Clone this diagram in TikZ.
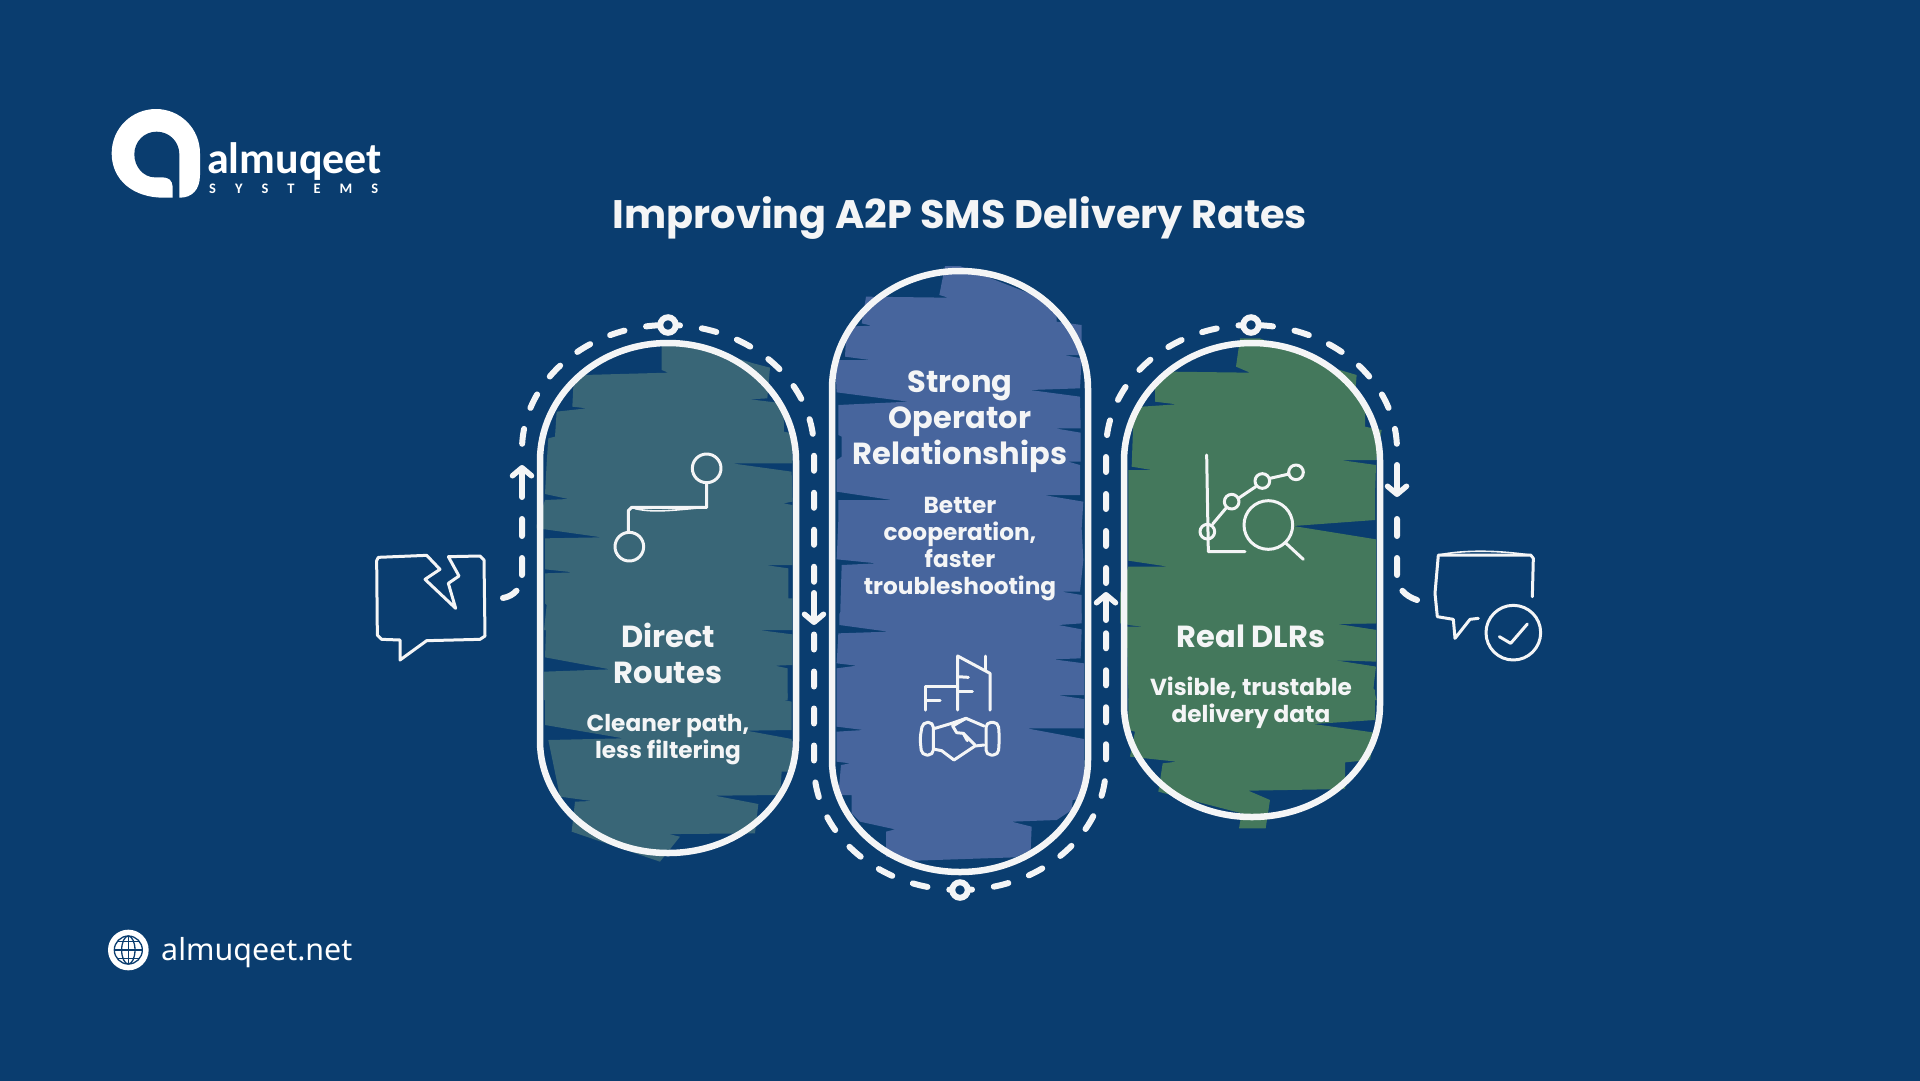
\documentclass[tikz,border=0pt]{standalone}
\usepackage{fontspec}
\usetikzlibrary{arrows.meta}
\setmainfont{Poppins}
\newfontfamily\logofont{Carlito}
\newfontfamily\webfont{Noto Sans}
\definecolor{bgc}{HTML}{0A3D6F}
\definecolor{tealc}{HTML}{396677}
\definecolor{bluec}{HTML}{47659D}
\definecolor{greenc}{HTML}{44785C}
\definecolor{inkc}{HTML}{F4F5F6}
\tikzset{
  pill/.style={draw=inkc,line width=6.5pt,line join=round},
  dashp/.style={draw=inkc,line width=6pt,line cap=round,dash pattern=on 15pt off 22pt},
  tailp/.style={draw=inkc,line width=6pt,line cap=round,dash pattern=on 17pt off 22pt on 17pt off 22pt on 17pt off 17pt on 22pt off 100pt,dash phase=17pt},
  flowarrow/.style={draw=inkc,line width=6pt,line cap=round,-{Straight Barb[length=8pt,width=19pt,round,line width=5.5pt]}},
  ringn/.style={circle,draw=inkc,fill=bgc,line width=6pt,minimum size=15.5pt,inner sep=0pt,outer sep=0pt},
  icon/.style={draw=inkc,line width=3pt,line cap=round,line join=round},
  thin icon/.style={draw=inkc,line width=1.6pt,line cap=round,line join=round},
  head/.style={text=inkc,align=center,inner sep=0pt,anchor=base,font=\fontsize{30.5}{36}\selectfont\bfseries},
  sub/.style={text=inkc,align=center,inner sep=0pt,anchor=base,font=\fontsize{23.2}{27}\selectfont\bfseries},
  zA/.style={shift={(360,300)},scale=0.33333},
  zC/.style={shift={(520,600)},scale=0.33333},
  zD/.style={shift={(820,260)},scale=0.33333},
  zE/.style={shift={(880,620)},scale=0.33333},
  zF/.style={shift={(1100,300)},scale=0.33333},
  zG/.style={shift={(1100,600)},scale=0.33333},
  zL/.style={shift={(90,90)},scale=0.33333},
  zW/.style={shift={(90,910)},scale=0.33333},
}
\begin{document}
\begin{tikzpicture}[x=1pt,y=-1pt]
\useasboundingbox (0,0) rectangle (1920,1080);
\fill[bgc] (-3,-3) rectangle (1923,1083);

% ---- logo
\begin{scope}[zL]
\fill[white] (220,323) .. controls (130,323) and (65,270) .. (65,190) .. controls (65,115) and (125,57) .. (198,57) .. controls (270,57) and (330,115) .. (330,190) -- (330,255) .. controls (330,300) and (305,323) .. (270,323) -- cycle;
\fill[bgc] (248,324) -- (248,290) .. controls (248,270) and (235,262) .. (218,262) -- (195,262) .. controls (160,262) and (133,230) .. (133,193) .. controls (133,155) and (162,125) .. (200,125) .. controls (238,125) and (268,155) .. (268,193) -- (268,324) -- cycle;
\end{scope}
\node[text=white,anchor=base west,inner sep=0pt,font=\logofont\fontsize{44}{44}\selectfont\bfseries] (logo) at (207,173) {almuqeet};
\node[text=white,anchor=base west,inner sep=0pt,font=\logofont\fontsize{14.5}{15}\selectfont\bfseries] (logosub) at (209,193) {\makebox[169pt][s]{S\hfil Y\hfil S\hfil T\hfil E\hfil M\hfil S}};

% ---- title
\node[text=inkc,inner sep=0pt,anchor=base,font=\fontsize{39.8}{42}\selectfont\bfseries] (title) at (960,228) {Improving A2P SMS Delivery Rates};

% ---- sketch fills: left
\begin{scope}[zA]
\fill[tealc] (905,135) -- (1000,135) -- (1180,190) -- (1230,203) -- (1222,295) -- (1170,298) -- (1270,310) -- (1272,395) -- (1295,400) -- (1297,490) -- (1115,490) -- (1295,515) -- (1297,605) -- (1270,610) -- (1297,615) -- (1297,795) -- (1215,795) -- (1285,805) -- (1285,895) -- (1297,895) -- (1297,990) -- (1195,990) -- (1297,1003) -- (1297,1095) -- (1245,1097) -- (1283,1105) -- (1283,1200) -- (552,1200) -- (552,1115) -- (750,1108) -- (555,1072) -- (558,990) -- (552,990) -- (560,915) -- (555,910) -- (555,820) -- (640,817) -- (555,808) -- (555,715) -- (725,712) -- (555,688) -- (530,685) -- (530,675) -- (555,600) -- (625,597) -- (555,582) -- (560,490) -- (565,415) -- (585,410) -- (590,335) -- (680,325) -- (637,320) -- (640,260) -- (670,225) -- (925,218) -- (905,210) -- cycle;
\end{scope}
\begin{scope}[zC]
\fill[tealc] (803,280) -- (803,295) -- (770,295) -- (815,305) -- (815,390) -- (680,392) -- (815,417) -- (820,515) -- (785,515) -- (780,585) -- (585,587) -- (715,612) -- (705,700) -- (480,702) -- (445,702) -- (480,710) -- (420,785) -- (155,695) -- (165,605) -- (215,603) -- (120,590) -- (85,420) -- (310,415) -- (75,375) -- (75,280) -- cycle;
\end{scope}
% ---- sketch fills: middle
\begin{scope}[zD]
\fill[bluec] (375,18) -- (420,18) -- (505,52) -- (640,105) -- (710,165) -- (710,185) -- (785,195) -- (785,285) -- (730,285) -- (785,295) -- (780,385) -- (630,390) -- (780,410) -- (782,505) -- (705,505) -- (782,518) -- (782,605) -- (745,605) -- (780,615) -- (780,705) -- (670,705) -- (790,725) -- (785,805) -- (790,900) -- (780,995) -- (725,995) -- (785,1005) -- (785,1080) -- (60,1080) -- (65,915) -- (170,910) -- (50,898) -- (55,780) -- (55,720) -- (215,720) -- (50,695) -- (50,600) -- (65,590) -- (65,530) -- (55,525) -- (55,435) -- (265,425) -- (50,397) -- (45,300) -- (150,300) -- (75,290) -- (80,200) -- (155,197) -- (125,190) -- (138,110) -- (385,113) -- (358,105) -- cycle;
\end{scope}
\begin{scope}[zE]
\fill[bluec] (605,-20) -- (605,10) -- (535,15) -- (605,28) -- (602,115) -- (520,118) -- (612,130) -- (612,225) -- (530,225) -- (612,237) -- (612,325) -- (440,325) -- (612,357) -- (612,430) -- (610,535) -- (578,540) -- (575,570) -- (530,600) -- (395,605) -- (455,620) -- (452,690) -- (405,712) -- (105,722) -- (18,710) -- (18,635) -- (45,628) -- (-60,605) -- (-85,580) -- (-85,525) -- (-125,525) -- (-117,435) -- (-90,430) -- (-130,425) -- (-130,335) -- (-50,330) -- (-130,320) -- (-130,235) -- (-130,145) -- (-70,137) -- (-130,130) -- (-125,40) -- (25,35) -- (-122,15) -- (-122,-20) -- cycle;
\end{scope}
% ---- sketch fills: right
\begin{scope}[zF]
\fill[greenc] (420,115) -- (480,115) -- (600,165) -- (720,210) -- (770,225) -- (765,285) -- (795,335) -- (795,380) -- (845,390) -- (828,480) -- (720,480) -- (828,495) -- (825,585) -- (825,660) -- (580,678) -- (828,718) -- (828,970) -- (700,970) -- (828,990) -- (828,1085) -- (700,1080) -- (828,1100) -- (820,1165) -- (830,1200) -- (85,1200) -- (85,1165) -- (80,980) -- (135,980) -- (90,975) -- (60,970) -- (60,880) -- (85,800) -- (205,800) -- (85,782) -- (85,600) -- (85,510) -- (155,510) -- (95,500) -- (100,360) -- (125,320) -- (230,313) -- (165,305) -- (165,240) -- (215,215) -- (450,218) -- (408,200) -- cycle;
\end{scope}
\begin{scope}[zG]
\fill[greenc] (828,30) -- (828,70) -- (705,72) -- (828,90) -- (828,180) -- (705,182) -- (825,200) -- (820,265) -- (825,270) -- (825,360) -- (640,372) -- (825,398) -- (810,480) -- (735,487) -- (735,567) -- (445,572) -- (510,600) -- (497,685) -- (417,685) -- (425,640) -- (175,575) -- (188,490) -- (230,485) -- (90,470) -- (105,395) -- (85,390) -- (85,295) -- (200,288) -- (85,265) -- (90,180) -- (95,85) -- (135,80) -- (85,75) -- (85,30) -- cycle;
\end{scope}

% ---- capsule outlines
\draw[pill] (540,461) .. controls (540,396) and (597,343) .. (668,343) .. controls (739,343) and (796,396) .. (796,461) -- (796,741) .. controls (796,803) and (739,853) .. (668,853) .. controls (597,853) and (540,803) .. (540,741) -- cycle;
\draw[pill] (832,389) .. controls (832,324) and (889,271) .. (960,271) .. controls (1031,271) and (1088,324) .. (1088,389) -- (1088,760) .. controls (1088,822) and (1031,872) .. (960,872) .. controls (889,872) and (832,822) .. (832,760) -- cycle;
\draw[pill] (1124,461) .. controls (1124,396) and (1181,343) .. (1252,343) .. controls (1323,343) and (1380,396) .. (1380,461) -- (1380,705) .. controls (1380,767) and (1323,817) .. (1252,817) .. controls (1181,817) and (1124,767) .. (1124,705) -- cycle;

% ---- flow coordinates and stations
\coordinate (startL) at (503,598);
\coordinate (a1t) at (522,497);
\coordinate (a1h) at (522,465);
\coordinate (a2t) at (814,593);
\coordinate (a2h) at (814,625);
\coordinate (a3t) at (1106,620);
\coordinate (a3h) at (1106,592);
\coordinate (a4t) at (1397,465);
\coordinate (a4h) at (1397,497);
\coordinate (endR) at (1417,600);
\coordinate (s1) at (668,325);
\coordinate (s2) at (960,890);
\coordinate (s3) at (1251,325);

% ---- dashed flow
\draw[tailp] (a1t) -- (522,575) .. controls (522,588) and (514,596) .. (startL);
\draw[dashp,dash phase=30pt] (s1) .. controls (587,325) and (522,381) .. (522,450) -- (a1h);
\draw[dashp,dash phase=3pt] (s1) .. controls (749,325) and (814,381) .. (814,450) -- (a2t);
\draw[dashp,dash phase=27.5pt] (a2h) -- (814,765) .. controls (814,834) and (879,890) .. (s2);
\draw[dashp,dash phase=3pt] (s2) .. controls (1041,890) and (1106,834) .. (1106,765) -- (a3t);
\draw[dashp,dash phase=28pt] (a3h) -- (1106,450) .. controls (1106,381) and (1170,325) .. (s3);
\draw[dashp,dash phase=30pt] (s3) .. controls (1332,325) and (1397,381) .. (1397,450) -- (a4t);
\draw[tailp] (a4h) -- (1397,575) .. controls (1397,588) and (1405,596) .. (endR);
\draw[flowarrow] (a1t) -- (a1h);
\draw[flowarrow] (a2t) -- (a2h);
\draw[flowarrow] (a3t) -- (a3h);
\draw[flowarrow] (a4t) -- (a4h);
\node[ringn] (r1) at (s1) {};
\node[ringn] (r2) at (s2) {};
\node[ringn] (r3) at (s3) {};

% ---- left icons
\begin{scope}[zA]
\draw[icon] (55,772) -- (200,766) -- (240,808) -- (195,838) -- (287,925) -- (265,850) -- (297,828) -- (265,770) -- (360,768) -- (372,780) -- (375,1008) -- (360,1018) -- (200,1022) -- (120,1080) -- (120,1020) -- (65,1018) -- (52,1005) -- (50,782) -- cycle;
\draw[icon] (1040,505) circle[radius=43];
\draw[icon] (808,740) circle[radius=43];
\draw[icon] (1040,548) -- (1040,622) -- (815,622) -- (805,632) -- (805,697);
\draw[thin icon] (825,626) .. controls (880,638) and (930,632) .. (1035,622);
\end{scope}

% ---- middle icon
\begin{scope}[zE]
\draw[icon] (233,270) -- (233,108) -- (330,160) -- (330,270);
\draw[icon] (315,108) -- (315,150);
\draw[icon] (137,270) -- (137,200) -- (233,200);
\draw[icon] (137,240) -- (180,240);
\draw[icon] (233,170) -- (265,172);
\draw[icon] (233,213) -- (277,213);
\draw[icon,rounded corners=5pt] (128,307) -- (160,307) -- (160,405) -- (125,405) -- (120,355) -- cycle;
\draw[icon,rounded corners=5pt] (318,307) -- (355,307) -- (358,355) -- (355,405) -- (318,405) -- cycle;
\draw[icon] (165,325) -- (215,310) -- (258,295) -- (312,318);
\draw[icon] (165,388) -- (185,392) -- (222,420) -- (285,378) -- (312,375);
\draw[icon] (258,295) -- (218,318) -- (230,338) -- (250,340) -- (285,375);
\draw[icon] (250,340) -- (262,362);
\end{scope}

% ---- right icons
\begin{scope}[zF]
\draw[icon] (320,465) -- (325,755) -- (435,755);
\draw[icon] (322,695) circle[radius=22];
\draw[icon] (395,605) circle[radius=22];
\draw[icon] (487,543) circle[radius=22];
\draw[icon] (588,517) circle[radius=22];
\draw[icon] (338,672) -- (380,622);
\draw[icon] (415,595) -- (467,560);
\draw[icon] (510,535) -- (567,522);
\draw[icon] (505,675) circle[radius=73];
\draw[icon] (555,727) -- (610,778);
\draw[icon] (1297,890) -- (1300,775) -- (1292,765) -- (1015,765) -- (1005,880) -- (1012,950) -- (1060,958) -- (1065,1015) -- (1110,958) -- (1135,955);
\draw[thin icon] (1015,765) .. controls (1100,748) and (1200,752) .. (1290,765);
\draw[icon] (1240,998) circle[radius=82];
\draw[icon] (1198,1010) -- (1232,1030) -- (1282,972);
\end{scope}

% ---- capsule texts
\node[head] (t1) at (668,683) {Direct\\Routes};
\node[sub] (d1) at (668,758) {Cleaner path,\\less filtering};
\node[head] (t2) at (960,464) {Strong\\Operator\\Relationships};
\node[sub] (d2) at (960,594) {Better\\cooperation,\\faster\\troubleshooting};
\node[head] (t3) at (1251,647) {Real DLRs};
\node[sub] (d3) at (1251,722) {Visible, trustable\\delivery data};

% ---- website
\begin{scope}[zW]
\fill[white] (115,120) circle[radius=61];
\draw[bgc,line width=1.3pt] (115,120) circle[radius=42];
\draw[bgc,line width=1.3pt] (115,120) ellipse[x radius=20,y radius=42];
\draw[bgc,line width=1.3pt] (73,120) -- (157,120) (115,78) -- (115,162) (82,95) -- (148,95) (82,145) -- (148,145);
\end{scope}
\node[text=white,anchor=base west,inner sep=0pt,font=\webfont\fontsize{30.4}{31}\selectfont] (web) at (161,960) {almuqeet.net};
\end{tikzpicture}
\end{document}
